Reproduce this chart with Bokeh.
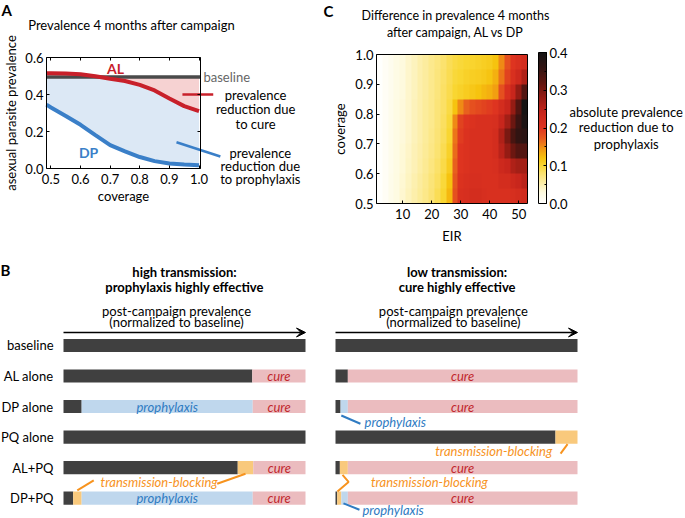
import numpy as np
from bokeh.plotting import figure
from bokeh.layouts import column, row
from bokeh.models import (Label, Arrow, VeeHead, LinearAxis, FixedTicker, PrintfTickFormatter,
                          LinearColorMapper, ColorBar, SingleIntervalTicker, Range1d)
from bokeh.core.properties import value
from bokeh.embed import file_html
from bokeh.resources import INLINE

FONT = "Lato"

# ---------------- Panel A data ----------------
coverage_a = [0.485, 0.5, 0.55, 0.6, 0.65, 0.7, 0.75, 0.8, 0.85, 0.9, 0.95, 1.0]
prev_AL = [0.515, 0.515, 0.514, 0.509, 0.499, 0.485, 0.473, 0.452, 0.422, 0.378, 0.337, 0.31]
prev_DP = [0.345, 0.33, 0.284, 0.236, 0.18, 0.126, 0.093, 0.062, 0.04, 0.027, 0.022, 0.018]
baseline_prev = 0.495
A_XLIM = (0.485, 1.005)
A_YLIM = (0.0, 0.6)
a_xticks = [0.5, 0.6, 0.7, 0.8, 0.9, 1.0]
a_yticks = [0.0, 0.2, 0.4, 0.6]

# ---------------- Panel C data (cell centres) ----------------
eir = [2, 4, 6, 8, 10, 12, 14, 16, 18, 20, 22, 24, 26, 28, 30, 32, 34, 36, 38, 40, 42, 44, 46, 48, 50, 52]
coverage_c = [0.525, 0.575, 0.625, 0.675, 0.725, 0.775, 0.825, 0.875, 0.925, 0.975]
diff = [
    [0.003, 0.01, 0.02, 0.028, 0.036, 0.044, 0.052, 0.06, 0.068, 0.078, 0.088, 0.10, 0.125, 0.18, 0.21, 0.215, 0.22, 0.22, 0.215, 0.21, 0.21, 0.21, 0.21, 0.215, 0.22, 0.225],
    [0.003, 0.01, 0.019, 0.027, 0.035, 0.043, 0.05, 0.058, 0.066, 0.075, 0.085, 0.097, 0.12, 0.175, 0.205, 0.21, 0.215, 0.215, 0.21, 0.21, 0.21, 0.22, 0.22, 0.23, 0.24, 0.25],
    [0.003, 0.01, 0.018, 0.026, 0.034, 0.041, 0.048, 0.056, 0.064, 0.072, 0.082, 0.093, 0.11, 0.17, 0.20, 0.205, 0.21, 0.21, 0.21, 0.21, 0.215, 0.23, 0.24, 0.26, 0.27, 0.27],
    [0.003, 0.01, 0.018, 0.026, 0.033, 0.04, 0.047, 0.054, 0.062, 0.07, 0.079, 0.09, 0.105, 0.165, 0.20, 0.205, 0.21, 0.21, 0.21, 0.21, 0.22, 0.25, 0.28, 0.31, 0.33, 0.33],
    [0.003, 0.01, 0.018, 0.025, 0.032, 0.039, 0.046, 0.053, 0.06, 0.068, 0.077, 0.087, 0.10, 0.16, 0.195, 0.205, 0.21, 0.21, 0.21, 0.21, 0.22, 0.26, 0.30, 0.34, 0.36, 0.37],
    [0.003, 0.01, 0.018, 0.025, 0.032, 0.039, 0.046, 0.053, 0.06, 0.067, 0.075, 0.085, 0.097, 0.15, 0.19, 0.20, 0.205, 0.21, 0.21, 0.21, 0.215, 0.24, 0.27, 0.31, 0.35, 0.39],
    [0.003, 0.01, 0.018, 0.025, 0.032, 0.039, 0.046, 0.053, 0.06, 0.067, 0.075, 0.084, 0.094, 0.12, 0.15, 0.17, 0.18, 0.185, 0.19, 0.195, 0.20, 0.22, 0.24, 0.28, 0.33, 0.40],
    [0.003, 0.01, 0.017, 0.024, 0.031, 0.038, 0.045, 0.052, 0.059, 0.066, 0.074, 0.083, 0.092, 0.10, 0.105, 0.11, 0.115, 0.12, 0.125, 0.13, 0.14, 0.18, 0.21, 0.24, 0.28, 0.33],
    [0.003, 0.01, 0.017, 0.024, 0.031, 0.038, 0.045, 0.052, 0.059, 0.066, 0.074, 0.082, 0.09, 0.097, 0.10, 0.105, 0.108, 0.11, 0.113, 0.118, 0.13, 0.16, 0.19, 0.21, 0.23, 0.26],
    [0.003, 0.01, 0.017, 0.024, 0.031, 0.038, 0.045, 0.052, 0.059, 0.066, 0.073, 0.081, 0.089, 0.095, 0.098, 0.10, 0.103, 0.105, 0.108, 0.112, 0.12, 0.15, 0.18, 0.20, 0.21, 0.22],
]
C_XLIM = (1, 53)
C_YLIM = (0.5, 1.0)
c_xticks = [10, 20, 30, 40, 50]
c_yticks = [0.5, 0.6, 0.7, 0.8, 0.9, 1.0]

# ---------------- Panel B data ----------------
rows = ["baseline", "AL alone", "DP alone", "PQ alone", "AL+PQ", "DP+PQ"]
hi_dark = [1.0, 0.78, 0.075, 1.0, 0.72, 0.04]
hi_tb = [0.0, 0.0, 0.0, 0.0, 0.064, 0.035]
hi_proph = [0.0, 0.0, 0.707, 0.0, 0.0, 0.707]
hi_cure = [0.0, 0.22, 0.218, 0.0, 0.216, 0.218]
lo_dark = [1.0, 0.051, 0.021, 0.909, 0.018, 0.007]
lo_tb = [0.0, 0.0, 0.0, 0.091, 0.033, 0.017]
lo_proph = [0.0, 0.0, 0.03, 0.0, 0.0, 0.027]
lo_cure = [0.0, 0.949, 0.949, 0.0, 0.949, 0.949]

# ---------------- styles ----------------
AL_COL = "#c8202a"
DP_COL = "#3a7fc8"
BASE_COL = "#4a4a4a"
PINK_FILL = "#f6d2d2"
BLUE_FILL = "#dce8f5"
DARK = "#404040"
CURE = "#ebbcbf"
PROPH = "#bfd7ed"
TBC = "#f9c97c"
CURE_TXT = "#c1272d"
PROPH_TXT = "#2f7bc2"
TB_TXT = "#f7931e"


def canvas_fig(w, h, left, top, bw, bh, xlim, ylim):
    """Figure whose frame fills the whole canvas; the data box lands at (left, top, bw, bh)."""
    sx = bw / (xlim[1] - xlim[0])
    sy = bh / (ylim[1] - ylim[0])
    xr = Range1d(xlim[0] - left / sx, xlim[0] + (w - left) / sx)
    yr = Range1d(ylim[1] - (h - top) / sy, ylim[1] + top / sy)
    p = figure(width=w, height=h, x_range=xr, y_range=yr, output_backend="svg",
               toolbar_location=None, min_border=0, min_border_left=0, min_border_right=0,
               min_border_top=0, min_border_bottom=0, title=None)
    p.grid.visible = False
    p.outline_line_color = None
    p.background_fill_color = "white"
    p.border_fill_color = "white"
    return p


def style_axis(ax):
    ax.major_label_text_font = FONT
    ax.major_label_text_font_size = "13px"
    ax.major_label_text_color = "black"
    ax.axis_label_text_font = FONT
    ax.axis_label_text_font_size = "13px"
    ax.axis_label_text_font_style = "normal"
    ax.axis_label_text_color = "black"
    ax.major_tick_in = 3
    ax.major_tick_out = 0
    ax.minor_tick_line_color = None
    ax.axis_line_color = "black"
    ax.major_tick_line_color = "black"


def box_axis(p, loc, fixed, bounds, ticks):
    ax = LinearAxis(fixed_location=fixed, bounds=bounds, ticker=FixedTicker(ticks=ticks),
                    major_label_text_color=None, axis_line_color="black",
                    major_tick_in=3, major_tick_out=0, major_tick_line_color="black",
                    minor_tick_line_color=None)
    p.add_layout(ax, loc)


def lab(p, x, y, text, size="13px", color="black", style="normal", align="left", baseline="middle"):
    p.add_layout(Label(x=x, y=y, text=text, text_font=FONT, text_font_size=size,
                       text_color=color, text_font_style=style, text_align=align,
                       text_baseline=baseline))


# ================= Panel A =================
pA = canvas_fig(320, 254, 46, 57, 154, 111, A_XLIM, A_YLIM)
cov = np.array(coverage_a)
al = np.array(prev_AL)
dp = np.array(prev_DP)
upper = np.minimum(al, baseline_prev)
pA.varea(x=cov, y1=dp, y2=upper, fill_color=BLUE_FILL)
pA.varea(x=cov, y1=upper, y2=np.full_like(cov, baseline_prev), fill_color=PINK_FILL)
pA.line(x=list(A_XLIM), y=[baseline_prev, baseline_prev], line_color=BASE_COL, line_width=3.5)
pA.line(cov, al, line_color=AL_COL, line_width=4)
pA.line(cov, dp, line_color=DP_COL, line_width=4)

xa, ya = pA.xaxis[0], pA.yaxis[0]
style_axis(xa)
style_axis(ya)
xa.fixed_location = A_YLIM[0]
xa.bounds = A_XLIM
ya.fixed_location = A_XLIM[0]
ya.bounds = A_YLIM
xa.ticker = FixedTicker(ticks=a_xticks)
ya.ticker = FixedTicker(ticks=a_yticks)
xa.formatter = PrintfTickFormatter(format="%.1f")
ya.formatter = PrintfTickFormatter(format="%.1f")
xa.axis_label = "coverage"
ya.axis_label = "asexual parasite prevalence"
xa.major_label_standoff = 5
xa.axis_label_standoff = 1
ya.major_label_standoff = 3
ya.axis_label_standoff = 3
box_axis(pA, "above", A_YLIM[1], A_XLIM, a_xticks)
box_axis(pA, "right", A_XLIM[1], A_YLIM, a_yticks)

lab(pA, 0.333, 0.903, "A", size="15px", style="bold", baseline="top")
lab(pA, 0.4232, 0.773, "Prevalence 4 months after campaign")
lab(pA, 0.718, 0.541, "AL", size="14px", color=AL_COL, style="bold", align="center")
lab(pA, 0.627, 0.0865, "DP", size="14px", color=DP_COL, style="bold", align="center")
lab(pA, 1.015, 0.492, "baseline", color="#666666")
pA.line([0.944, 1.048], [0.40, 0.40], line_color=AL_COL, line_width=2.5)
for yy, t in zip([0.395, 0.319, 0.243], ["prevalence", "reduction due", "to cure"]):
    lab(pA, 1.191, yy, t, align="center")
pA.line([0.924, 1.072], [0.142, 0.065], line_color=DP_COL, line_width=2.5)
for yy, t in zip([0.083, 0.011, -0.055], ["prevalence", "reduction due", "to prophylaxis"]):
    lab(pA, 1.207, yy, t, align="center")

# ================= Panel C =================
pC = canvas_fig(364, 254, 56, 54, 151, 149, C_XLIM, C_YLIM)
anchors = [(0.00, (255, 255, 255)), (0.03, (254, 250, 222)), (0.05, (253, 240, 175)),
           (0.08, (251, 226, 110)), (0.10, (249, 214, 50)), (0.12, (246, 194, 14)),
           (0.145, (241, 150, 18)), (0.17, (232, 95, 30)), (0.20, (222, 52, 32)),
           (0.24, (200, 38, 28)), (0.28, (150, 28, 20)), (0.32, (95, 22, 16)),
           (0.36, (50, 20, 18)), (0.40, (22, 20, 20))]
av = np.array([a[0] for a in anchors])
ac = np.array([a[1] for a in anchors], dtype=float)
palette = []
for g in np.linspace(0, 0.4, 256):
    rgb = [int(round(np.interp(g, av, ac[:, k]))) for k in range(3)]
    palette.append("#%02x%02x%02x" % tuple(rgb))
mapper = LinearColorMapper(palette=palette, low=0.0, high=0.4)
Z = np.array(diff)
dx = eir[1] - eir[0]
dy = coverage_c[1] - coverage_c[0]
pC.image(image=[Z], x=eir[0] - dx / 2, y=coverage_c[0] - dy / 2,
         dw=len(eir) * dx, dh=len(coverage_c) * dy, color_mapper=mapper)

xc, yc = pC.xaxis[0], pC.yaxis[0]
style_axis(xc)
style_axis(yc)
xc.fixed_location = C_YLIM[0]
xc.bounds = C_XLIM
yc.fixed_location = C_XLIM[0]
yc.bounds = C_YLIM
xc.ticker = FixedTicker(ticks=c_xticks)
yc.ticker = FixedTicker(ticks=c_yticks)
yc.formatter = PrintfTickFormatter(format="%.1f")
xc.axis_label = "EIR"
yc.axis_label = "coverage"
xc.major_label_standoff = 5
xc.axis_label_standoff = 6
yc.major_label_standoff = 3
yc.axis_label_standoff = 4
box_axis(pC, "above", C_YLIM[1], C_XLIM, [])
box_axis(pC, "right", C_XLIM[1], C_YLIM, [])

cb = ColorBar(color_mapper=mapper, width=8, height=151, padding=0, margin=0,
              location=(218, 51), ticker=SingleIntervalTicker(interval=0.1, num_minor_ticks=2),
              formatter=PrintfTickFormatter(format="%.1f"),
              major_label_text_font=FONT, major_label_text_font_size="13px",
              major_label_text_color="black",
              major_tick_in=3, major_tick_out=0, major_tick_line_color="black",
              minor_tick_in=2, minor_tick_out=0, minor_tick_line_color="black",
              bar_line_color="black", label_standoff=3, background_fill_color=None)
pC.add_layout(cb)

lab(pC, -17.25, 1.1745, "C", size="15px", style="bold", baseline="top")
lab(pC, 28.2, 1.131, "Difference in prevalence 4 months", size="12.5px", align="center")
lab(pC, 28.2, 1.075, "after campaign, AL vs DP", size="12.5px", align="center")
for yy, t in zip([0.806, 0.756, 0.70], ["absolute prevalence", "reduction due to", "prophylaxis"]):
    lab(pC, 87.0, yy, t, align="center")

# ================= Panel B =================
BAR_H = 0.43
n = len(rows)
ypos = np.array([n - 0.5 - i for i in range(n)])
B_XLIM = (0.0, 1.0)
B_YLIM = (0.0, float(n))


def draw_bars(p, dark, tb, proph, cure, label_proph):
    left = np.zeros(n)
    segs = {}
    for name, vals, col in (("dark", dark, DARK), ("tb", tb, TBC),
                            ("proph", proph, PROPH), ("cure", cure, CURE)):
        v = np.array(vals)
        right = left + v
        m = v > 0
        p.hbar(y=ypos[m], left=left[m], right=right[m], height=BAR_H,
               fill_color=col, line_color=None)
        segs[name] = (left.copy(), right.copy(), m)
        left = right
    l, r, m = segs["cure"]
    p.text(x=((l + r) / 2)[m], y=ypos[m], text=["cure"] * int(m.sum()),
           text_font=value(FONT), text_font_style="italic", text_font_size="13px",
           text_color=CURE_TXT, text_align="center", text_baseline="middle")
    if label_proph:
        l, r, m = segs["proph"]
        p.text(x=((l + r) / 2)[m], y=ypos[m], text=["prophylaxis"] * int(m.sum()),
               text_font=value(FONT), text_font_style="italic", text_font_size="13px",
               text_color=PROPH_TXT, text_align="center", text_baseline="middle")


def b_common(p):
    p.xaxis.visible = False
    p.add_layout(Arrow(end=VeeHead(size=9, fill_color="black", line_color="black"),
                       x_start=B_XLIM[0], y_start=5.925, x_end=B_XLIM[1], y_end=5.925,
                       line_color="black", line_width=1.5))


pBL = canvas_fig(320, 263, 63, 75.7, 242, 183.2, B_XLIM, B_YLIM)
b_common(pBL)
draw_bars(pBL, hi_dark, hi_tb, hi_proph, hi_cure, True)
yb = pBL.yaxis[0]
yb.fixed_location = B_XLIM[0]
yb.ticker = FixedTicker(ticks=list(ypos))
yb.major_label_overrides = {float(y): r for y, r in zip(ypos, rows)}
yb.major_label_text_font = FONT
yb.major_label_text_font_size = "13px"
yb.major_label_text_color = "black"
yb.axis_line_color = None
yb.major_tick_line_color = None
yb.minor_tick_line_color = None
yb.major_tick_in = 0
yb.major_tick_out = 0
yb.minor_tick_in = 0
yb.minor_tick_out = 0
yb.major_label_standoff = 10

lab(pBL, -0.26, 8.28, "B", size="15px", style="bold", baseline="top")
lab(pBL, 0.5, 7.92, "high transmission:", style="bold", align="center")
lab(pBL, 0.5, 7.43, "prophylaxis highly effective", style="bold", align="center")
lab(pBL, 0.467, 6.645, "post-campaign prevalence", align="center")
lab(pBL, 0.467, 6.262, "(normalized to baseline)", align="center")
lab(pBL, 0.395, 1.023, "transmission-blocking", color=TB_TXT, style="italic", align="center")
pBL.line([0.635, 0.752], [0.971, 1.298], line_color=TB_TXT, line_width=2)
pBL.line([0.125, 0.057], [1.079, 0.751], line_color=TB_TXT, line_width=2)

pBR = canvas_fig(364, 263, 15, 75.7, 242, 183.2, B_XLIM, B_YLIM)
b_common(pBR)
pBR.yaxis.visible = False
draw_bars(pBR, lo_dark, lo_tb, lo_proph, lo_cure, False)
lab(pBR, 0.503, 7.92, "low transmission:", style="bold", align="center")
lab(pBR, 0.503, 7.43, "cure highly effective", style="bold", align="center")
lab(pBR, 0.487, 6.645, "post-campaign prevalence", align="center")
lab(pBR, 0.487, 6.262, "(normalized to baseline)", align="center")
lab(pBR, 0.247, 2.99, "prophylaxis", color=PROPH_TXT, style="italic", align="center")
pBR.line([0.024, 0.103], [3.207, 2.935], line_color=PROPH_TXT, line_width=2)
lab(pBR, 0.654, 2.028, "transmission-blocking", color=TB_TXT, style="italic", align="center")
pBR.line([0.93, 0.959], [1.96, 2.27], line_color=TB_TXT, line_width=2)
lab(pBR, 0.388, 1.023, "transmission-blocking", color=TB_TXT, style="italic", align="center")
pBR.line([0.029, 0.054, 0.008], [1.26, 1.03, 0.72], line_color=TB_TXT, line_width=2)
lab(pBR, 0.238, 0.11, "prophylaxis", color=PROPH_TXT, style="italic", align="center")
pBR.line([0.033, 0.099], [0.33, 0.12], line_color=PROPH_TXT, line_width=2)

layout = column(row(pA, pC), row(pBL, pBR))
open("out.html", "w").write(file_html(layout, INLINE))
